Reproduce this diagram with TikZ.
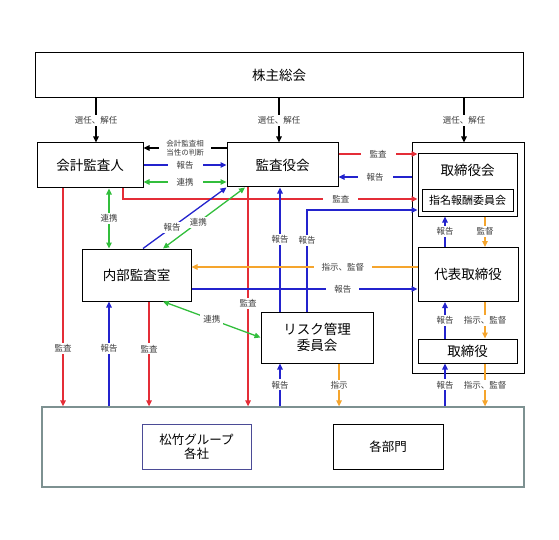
\documentclass[tikz,border=0pt]{standalone}
\usepackage{fontspec}
\setmainfont{Noto Sans CJK JP}
\usepackage{xcolor}
\usetikzlibrary{arrows.meta}
\definecolor{lnred}{RGB}{228,45,55}
\definecolor{lnblue}{RGB}{35,35,205}
\definecolor{lngreen}{RGB}{50,190,60}
\definecolor{lnorange}{RGB}{245,165,45}
\definecolor{frgray}{RGB}{125,145,145}
\definecolor{frblue}{RGB}{75,75,150}
\definecolor{lbltext}{RGB}{60,60,60}
\tikzset{
    box/.style={draw,line width=1pt,align=center,inner sep=0pt,font=\fontsize{13.5}{15.5}\selectfont},
    lbl/.style={fill=white,text=lbltext,inner xsep=3pt,inner ysep=1.5pt,font=\fontsize{8.5}{10}\selectfont},
    ln/.style={line width=1.3pt,->},
}

\begin{document}
\begin{tikzpicture}[x=1pt,y=-1pt,>={Triangle[length=6pt,width=5.5pt]}]
    \useasboundingbox (0,0) rectangle (559,540);

    \node[box,minimum width=488pt,minimum height=45pt] (gm) at (279,75.5) {株主総会};
    \node[box,minimum width=106pt,minimum height=45pt] (ka) at (90,165.5) {会計監査人};
    \node[box,minimum width=111pt,minimum height=44pt] (kb) at (282.5,165) {監査役会};
    \node[box,minimum width=112pt,minimum height=230pt] (bd) at (468,258) {};
    \node[box,minimum width=99pt,minimum height=62pt] (bod) at (467.5,185) {};
    \node[font=\fontsize{13.5}{15.5}\selectfont] (bodt) at (467.5,170) {取締役会};
    \node[box,minimum width=91pt,minimum height=21pt,font=\fontsize{11}{13}\selectfont] (nc) at (467.5,200.5) {指名報酬委員会};
    \node[box,minimum width=100pt,minimum height=54pt] (rep) at (468,274.5) {代表取締役};
    \node[box,minimum width=99pt,minimum height=24pt] (dir) at (467.5,351) {取締役};
    \node[box,minimum width=109pt,minimum height=52pt] (ia) at (136.5,275) {内部監査室};
    \node[box,minimum width=112pt,minimum height=51pt] (rm) at (317,337.5) {リスク管理\\委員会};
    \node[box,draw=frgray,line width=1.3pt,minimum width=482pt,minimum height=80pt] (bot) at (283,447) {};
    \node[box,draw=frblue,minimum width=109pt,minimum height=45pt,font=\fontsize{12.5}{14}\selectfont] (grp) at (196.5,446.5) {松竹グループ\\各社};
    \node[box,minimum width=110pt,minimum height=45pt,font=\fontsize{12.5}{14}\selectfont] (dep) at (388,446.5) {各部門};

    \foreach \x in {63,96,109,123,143,149,163,245,248,279,280,307,339,445,464,485}
        \coordinate (l\x) at (\x,0);
    \foreach \y in {148,154,165,177,182,199,210,267,289}
        \coordinate (h\y) at (0,\y);

    \draw[ln] (gm.south -| l96) -- node[lbl]{選任、解任} (ka.north -| l96);
    \draw[ln] (gm.south -| l279) -- node[lbl]{選任、解任} (kb.north -| l279);
    \draw[ln] (gm.south -| l464) -- node[lbl]{選任、解任} (bd.north -| l464);
    \draw[ln] (kb.west |- h148) -- node[lbl,align=center,inner xsep=7pt,font=\fontsize{7.5}{8.5}\selectfont]{会計監査相\\当性の判断} (ka.east |- h148);

    \draw[ln,lnblue] (ka.east |- h165) -- node[lbl,inner xsep=9pt]{報告} (kb.west |- h165);
    \draw[ln,<->,lngreen] (ka.east |- h182) -- node[lbl,inner xsep=9pt]{連携} (kb.west |- h182);
    \draw[ln,lnred] (kb.east |- h154) -- node[lbl,inner xsep=9pt]{監査} (bod.west |- h154);
    \draw[ln,lnblue] (bd.west |- h177) -- node[lbl,inner xsep=9pt]{報告} (kb.east |- h177);
    \draw[ln,lnred] (ka.south -| l123) |- node[lbl,pos=.87,inner xsep=9pt]{監査} (bod.west |- h199);
    \draw[ln,lnblue] (rm.north -| l307) |- node[lbl,pos=.35]{報告} (bod.west |- h210);
    \draw[ln,lnblue] (rm.north -| l280) -- node[lbl,pos=.58]{報告} (kb.south -| l280);
    \draw[ln,lnred] (kb.south -| l248) -- node[lbl,pos=.53]{監査} (bot.north -| l248);

    \draw[ln,<->,lngreen] (ka.south -| l109) -- node[lbl]{連携} (ia.north -| l109);
    \draw[ln,lnblue] (ia.north -| l143) -- node[lbl,pos=.35,inner xsep=1pt]{報告} (kb.south west);
    \draw[ln,<->,lngreen] (kb.south -| l245) -- node[lbl,pos=.57,inner xsep=1pt]{連携} (ia.north -| l163);
    \draw[ln,<->,lngreen] (ia.south -| l163) -- node[lbl]{連携} (rm.west);

    \draw[ln,lnorange] (rep.west |- h267) -- node[lbl,pos=.33,inner xsep=8pt]{指示、監督} (ia.east |- h267);
    \draw[ln,lnblue] (ia.east |- h289) -- node[lbl,pos=.67,inner xsep=8pt]{報告} (rep.west |- h289);

    \draw[ln,lnblue] (rep.north -| l445) -- node[lbl]{報告} (bod.south -| l445);
    \draw[ln,lnorange] (bod.south -| l485) -- node[lbl]{監督} (rep.north -| l485);
    \draw[ln,lnblue] (dir.north -| l445) -- node[lbl]{報告} (rep.south -| l445);
    \draw[ln,lnorange] (rep.south -| l485) -- node[lbl]{指示、監督} (dir.north -| l485);
    \draw[ln,lnblue] (bot.north -| l445) -- node[lbl]{報告} (dir.south -| l445);
    \draw[ln,lnorange] (dir.south -| l485) -- node[lbl]{指示、監督} (bot.north -| l485);
    \draw[ln,lnblue] (bot.north -| l280) -- node[lbl]{報告} (rm.south -| l280);
    \draw[ln,lnorange] (rm.south -| l339) -- node[lbl]{指示} (bot.north -| l339);

    \draw[ln,lnred] (ka.south -| l63) -- node[lbl,pos=.735]{監査} (bot.north -| l63);
    \draw[ln,lnblue] (bot.north -| l109) -- node[lbl,pos=.55]{報告} (ia.south -| l109);
    \draw[ln,lnred] (ia.south -| l149) -- node[lbl,pos=.45]{監査} (bot.north -| l149);
\end{tikzpicture}
\end{document}
